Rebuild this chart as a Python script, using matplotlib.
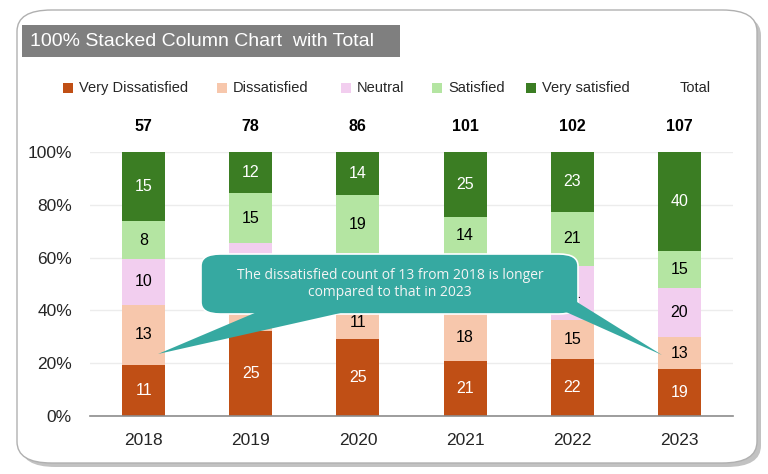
import matplotlib.pyplot as plt
import numpy as np
from matplotlib.patches import FancyBboxPatch, Polygon, Rectangle

# Исходные данные
years = ['2018', '2019', '2020', '2021', '2022', '2023']
series_names = ['Very Dissatisfied', 'Dissatisfied', 'Neutral', 'Satisfied', 'Very satisfied']
very_dissatisfied = [11, 25, 25, 21, 22, 19]
dissatisfied = [13, 14, 11, 18, 15, 13]
neutral = [10, 12, 17, 23, 21, 20]
satisfied = [8, 15, 19, 14, 21, 15]
very_satisfied = [15, 12, 14, 25, 23, 40]
colors = ['#C04F15', '#F7C7AC', '#F2CEEF', '#B4E5A2', '#3B7D23']
label_colors = ['white', 'black', 'black', 'black', 'white']
callout_text = 'The dissatisfied count of 13 from 2018 is longer\ncompared to that in 2023'

W, H = 768, 474
fig = plt.figure(figsize=(W / 100, H / 100), dpi=100)
fig.patch.set_facecolor('white')


def px(x, y):
    # пиксели (от верхнего левого угла) -> доли фигуры
    return x / W, 1 - y / H


# рамка с тенью
shadow = FancyBboxPatch(px(21, 467), 740 / W, 453 / H, boxstyle='round,pad=0,rounding_size=0.045',
                        transform=fig.transFigure, facecolor='#9a9a9a', edgecolor='none', alpha=0.6, zorder=-3)
frame = FancyBboxPatch(px(17, 463), 740 / W, 453 / H, boxstyle='round,pad=0,rounding_size=0.045',
                       transform=fig.transFigure, facecolor='white', edgecolor='#b0b0b0', lw=1, zorder=-2)
fig.patches.extend([shadow, frame])

# заголовок
fig.patches.append(Rectangle(px(22, 57), 378 / W, 32 / H, transform=fig.transFigure,
                             facecolor='#7f7f7f', edgecolor='none', zorder=1))
fig.text(*px(30, 41.5), '100% Stacked Column Chart  with Total', color='white', fontsize=14,
         family='Liberation Sans', va='center', ha='left', zorder=2)

# легенда
legend_x = [68, 222, 346, 437, 531]
for name, col, lx in zip(series_names, colors, legend_x):
    fig.patches.append(Rectangle(px(lx - 5, 93), 10 / W, 10 / H, transform=fig.transFigure,
                                 facecolor=col, edgecolor='none', zorder=2))
    fig.text(*px(lx + 11, 88), name, fontsize=10.5, family='Liberation Sans',
             va='center', ha='left', color='#262626')
fig.text(*px(695, 88), 'Total', fontsize=10.5, family='Liberation Sans',
         va='center', ha='center', color='#262626')

# выноска (пиксели)
box_l, box_t, box_r, box_b = 201, 254, 578, 314

# оси
ax = fig.add_axes([90 / W, 1 - 416 / H, 643 / W, 264 / H])
ax.set_facecolor('none')
x = np.arange(len(years))
ax.set_xlim(-0.5, len(years) - 0.5)
ax.set_ylim(0, 100)
data = np.array([very_dissatisfied, dissatisfied, neutral, satisfied, very_satisfied], dtype=float)
totals = data.sum(axis=0)
pct = data / totals * 100
bottom = np.zeros(len(years))
for i in range(len(series_names)):
    ax.bar(x, pct[i], 0.4, bottom=bottom, color=colors[i], zorder=2)
    for j in range(len(years)):
        yc = bottom[j] + pct[i][j] / 2
        # подписи, полностью скрытые выноской, не рисуем
        dx, dy = ax.transData.transform((x[j], yc))
        dy = H - dy
        if box_l + 15 < dx < box_r - 15 and box_t < dy < box_b:
            continue
        ax.text(x[j], yc, f'{int(data[i][j])}', ha='center', va='center',
                fontsize=11.5, color=label_colors[i], family='Liberation Sans', zorder=3)
    bottom += pct[i]

for j in range(len(years)):
    ax.text(x[j], 1.095, f'{int(totals[j])}', transform=ax.get_xaxis_transform(), ha='center',
            va='center', fontsize=11.5, fontweight='bold', family='Liberation Sans', color='black')

ax.set_yticks([0, 20, 40, 60, 80, 100])
ax.set_yticklabels([f'{v}%' for v in [0, 20, 40, 60, 80, 100]])
ax.set_xticks(x)
ax.set_xticklabels(years)
ax.grid(axis='y', color='#ececec', lw=1, zorder=0)
for s in ['top', 'right', 'left']:
    ax.spines[s].set_visible(False)
ax.spines['bottom'].set_color('#8c8c8c')
ax.spines['bottom'].set_linewidth(1.2)
ax.tick_params(length=0, labelsize=12.5, labelcolor='#262626')
ax.tick_params(axis='x', pad=12)
ax.tick_params(axis='y', pad=13)
for t in ax.get_xticklabels() + ax.get_yticklabels():
    t.set_family('Liberation Sans')

teal = '#36A9A1'
box = FancyBboxPatch(px(box_l, box_b), (box_r - box_l) / W, (box_b - box_t) / H,
                     boxstyle='round,pad=0,rounding_size=0.025',
                     transform=fig.transFigure, facecolor=teal, edgecolor='white', lw=1.2, zorder=5)
tail_left = Polygon([px(257, 312), px(158, 354), px(345, 312)], closed=True,
                    transform=fig.transFigure, facecolor=teal, edgecolor='none', zorder=6)
tail_right = Polygon([px(566, 312), px(662, 355), px(577, 302)], closed=True,
                     transform=fig.transFigure, facecolor=teal, edgecolor='none', zorder=6)
fig.patches.extend([box, tail_left, tail_right])
fig.text(*px(390, 284), callout_text, color='#f4f4f4', fontsize=10, family=['Open Sans', 'DejaVu Sans'],
         ha='center', va='center', linespacing=1.25, zorder=7)

plt.savefig('out.png', dpi=100, facecolor='white')
